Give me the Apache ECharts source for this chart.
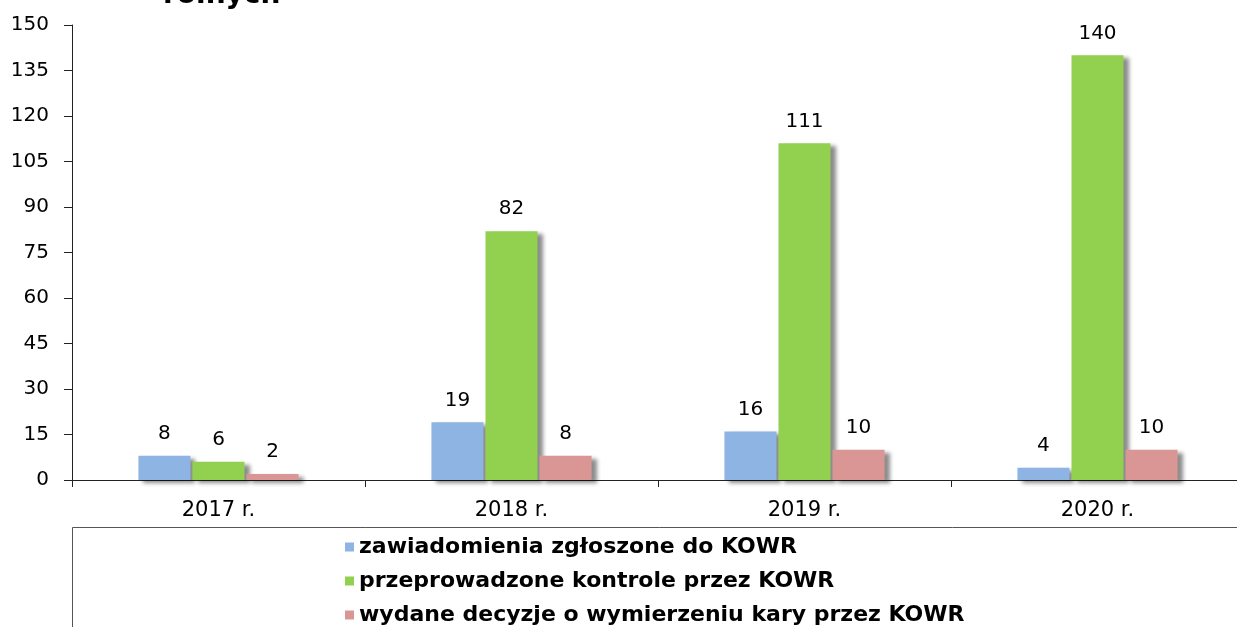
<!DOCTYPE html>
<html>
<head>
<meta charset="utf-8">
<script src="https://cdn.jsdelivr.net/npm/echarts@6/dist/echarts.min.js"></script>
<style>
  * { margin: 0; padding: 0; }
  body { overflow: hidden; width: 1237px; height: 627px; }
  #mychart { width: 1245px; height: 627px; background: #fff; }
</style>
</head>
<body>
<div id="mychart"></div>
<script>
const years = ["2017 r.", "2018 r.", "2019 r.", "2020 r."];
const seriesNames = [
  "zawiadomienia zgłoszone do KOWR",
  "przeprowadzone kontrole przez KOWR",
  "wydane decyzje o wymierzeniu kary przez KOWR"
];
const zawiadomienia = [8, 19, 16, 4];
const kontrole = [6, 82, 111, 140];
const decyzje = [2, 8, 10, 10];
const colors = ["#8EB4E3", "#92D050", "#D99694"];

const font = "Verdana, 'DejaVu Sans', sans-serif";

function barSeries(name, data, color) {
  return {
    name: name,
    type: "bar",
    data: data,
    barWidth: 52,
    barGap: "4%",
    itemStyle: {
      color: color,
      shadowColor: "rgba(0,0,0,0.45)",
      shadowBlur: 4,
      shadowOffsetX: 5,
      shadowOffsetY: 3
    },
    label: {
      show: true,
      position: "top",
      distance: 12,
      color: "#000",
      fontFamily: font,
      fontSize: 20
    }
  };
}

var chart = echarts.init(document.getElementById("mychart"));
const option = {
  animation: false,
  title: {
    text: "rolnych",
    left: 158,
    top: -23,
    textStyle: { fontFamily: font, fontSize: 28, fontWeight: "bold", color: "#000" }
  },
  grid: {
    left: 72,
    right: 1,
    top: 25,
    bottom: 147,
    containLabel: false
  },
  legend: {
    orient: "vertical",
    left: 340,
    top: 536,
    padding: [0, 5],
    itemWidth: 9,
    itemHeight: 9,
    itemGap: 12,
    icon: "rect",
    data: seriesNames,
    textStyle: { fontFamily: font, fontSize: 22, lineHeight: 22, fontWeight: "bold", color: "#000" }
  },
  graphic: [
    {
      type: "rect",
      shape: { x: 72.5, y: 527.5, width: 1200, height: 120 },
      style: { fill: "none", stroke: "#555", lineWidth: 1 },
      z: -1
    }
  ],
  xAxis: {
    type: "category",
    data: years,
    axisLine: { lineStyle: { color: "#222" } },
    axisTick: { show: true, length: 7, lineStyle: { color: "#222" } },
    axisLabel: { color: "#000", fontFamily: font, fontSize: 21, margin: 20 }
  },
  yAxis: {
    type: "value",
    min: 0,
    max: 150,
    interval: 15,
    axisLine: { show: true, lineStyle: { color: "#222" } },
    axisTick: { show: true, length: 8, lineStyle: { color: "#222" } },
    splitLine: { show: false },
    axisLabel: { color: "#000", fontFamily: font, fontSize: 20, margin: 23 }
  },
  series: [
    barSeries(seriesNames[0], zawiadomienia, colors[0]),
    barSeries(seriesNames[1], kontrole, colors[1]),
    barSeries(seriesNames[2], decyzje, colors[2])
  ]
};
chart.setOption(option);
</script>
</body>
</html>
